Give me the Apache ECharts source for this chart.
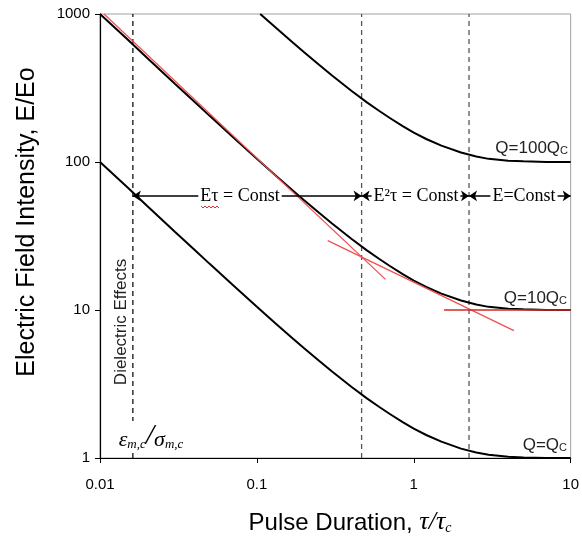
<!DOCTYPE html>
<html><head><meta charset="utf-8">
<script src="https://cdn.jsdelivr.net/npm/echarts/dist/echarts.min.js"></script>
<style>html,body{margin:0;padding:0;background:#fff}#c{width:582px;height:552px}</style>
</head><body><div id="c"></div>
<script>
// ---- data ----
const tau = [0.01,0.015,0.02,0.03,0.04,0.05,0.07,0.1,0.13,0.17,0.2,0.25,0.3,0.4,0.5,0.6,0.7,0.85,1,1.2,1.5,2,2.5,3,4,5,7,10];
const eQc = [100,67.2,50.5,33.8,25.5,20.5,14.8,10.5,8.2,6.4,5.52,4.52,3.86,3.03,2.54,2.22,1.99,1.75,1.58,1.43,1.29,1.157,1.089,1.052,1.019,1.007,1.001,1];
const eQ10 = [1000,672,505,338,255,205,148,105,82,64,55.2,45.2,38.6,30.3,25.4,22.2,19.9,17.5,15.8,14.3,12.9,11.6,10.9,10.5,10.2,10.1,10.0,10];
const tau100 = [0.105,0.13,0.17,0.2,0.25,0.3,0.4,0.5,0.6,0.7,0.85,1,1.2,1.5,2,2.5,3,4,5,7,10];
const eQ100 = [1000,820,640,552,452,386,303,254,222,199,175,158,143,129,116,109,105,102,101,100,100];
// red tangent lines (end points)
const tangentEtauX = [0.0106, 0.66];   const tangentEtauY = [1000, 16.1];
const tangentE2tauX = [0.283, 4.35];   const tangentE2tauY = [29.4, 7.25];
const tangentEX = [1.56, 10];          const tangentEY = [10, 10];
// vertical boundaries (tau) and the arrow level (E)
const boundaryTaus = [0.0162, 0.465, 2.25];
const arrowLevel = 59;
const xTickLabels = ['0.01','0.1','1','10'];
const yTickLabels = ['1','10','100','1000'];
const curveNames = ['Q=Qc','Q=10Qc','Q=100Qc'];

const pairs = (xs, ys) => xs.map((x, i) => [x, ys[i]]);
const SANS = 'Liberation Sans', SERIF = 'Liberation Serif';
const chart = echarts.init(document.getElementById('c'), null, {renderer:'canvas'});

const curve = (name, data) => ({
  name, type:'line', data, showSymbol:false, symbol:'none', smooth:false,
  lineStyle:{color:'#000', width:2}, z:3, silent:true, animation:false
});
const seg = (data, color, width, dash, z) => ({
  type:'line', data, showSymbol:false, symbol:'none',
  lineStyle:{color, width, type:dash || 'solid'}, z, silent:true, animation:false
});

const series = [
  seg([[boundaryTaus[0],1],[boundaryTaus[0],1000]], '#111', 1.3, [5,4], 1),
  seg([[boundaryTaus[1],1],[boundaryTaus[1],1000]], '#555', 1.3, [5,4], 1),
  seg([[boundaryTaus[2],1],[boundaryTaus[2],1000]], '#555', 1.3, [5,4], 1),
  curve(curveNames[0], pairs(tau, eQc)),
  curve(curveNames[1], pairs(tau, eQ10)),
  curve(curveNames[2], pairs(tau100, eQ100)),
  seg(pairs(tangentEtauX, tangentEtauY), '#f05050', 1.3, null, 4),
  seg(pairs(tangentE2tauX, tangentE2tauY), '#f05050', 1.3, null, 4),
  seg(pairs(tangentEX, tangentEY), '#d02828', 1.6, null, 4),
  {
    type:'line', data:[], silent:true, animation:false, z:5,
    markLine:{
      silent:true, animation:false, symbol:['arrow','arrow'], symbolSize:8,
      label:{show:false}, lineStyle:{color:'#000', width:1.6, type:'solid'},
      data:[
        [{coord:[boundaryTaus[0], arrowLevel]}, {coord:[boundaryTaus[1], arrowLevel]}],
        [{coord:[boundaryTaus[1], arrowLevel]}, {coord:[boundaryTaus[2], arrowLevel]}],
        [{coord:[boundaryTaus[2], arrowLevel]}, {coord:[10, arrowLevel]}]
      ]
    }
  }
];

const qLabel = (txt, x, y) => ({
  type:'text', x, y, z:10,
  style:{text:'{a|'+txt+'}{s|C}', align:'right', verticalAlign:'middle', fill:'#222',
    rich:{a:{fontFamily:SANS, fontSize:17, fill:'#222', verticalAlign:'bottom'},
          s:{fontFamily:SANS, fontSize:11, fill:'#222', verticalAlign:'bottom'}}}
});
const regionLabel = (txt, x, y) => ({
  type:'text', x, y, z:10,
  style:{text:txt, align:'center', verticalAlign:'middle', fill:'#000',
    font:'18px "'+SERIF+'"', backgroundColor:'#fff', padding:[0,2]}
});

chart.setOption({
  animation:false,
  grid:{left:100, right:9, top:14, bottom:94, show:true, borderColor:'#a0a0a0', borderWidth:1},
  xAxis:{
    type:'log', logBase:10, min:0.01, max:10,
    axisLine:{show:true, onZero:false, lineStyle:{color:'#000', width:1.2}},
    axisTick:{show:true, inside:false, length:5, lineStyle:{color:'#000'}},
    minorTick:{show:false}, splitLine:{show:false},
    axisLabel:{margin:19, fontFamily:SANS, fontSize:15, color:'#000',
      formatter:v => xTickLabels[Math.round(Math.log10(v)) + 2]}
  },
  yAxis:{
    type:'log', logBase:10, min:1, max:1000,
    axisLine:{show:true, onZero:false, lineStyle:{color:'#000', width:1.2}},
    axisTick:{show:true, inside:false, length:5, lineStyle:{color:'#000'}},
    minorTick:{show:false}, splitLine:{show:false},
    axisLabel:{margin:10, fontFamily:SANS, fontSize:15, color:'#000',
      formatter:v => yTickLabels[Math.round(Math.log10(v))]}
  },
  series,
  graphic:[
    {type:'text', x:27, y:222, rotation:Math.PI/2, z:10,
      style:{text:'Electric Field Intensity, E/Eo', align:'center', verticalAlign:'middle',
        font:'25px "'+SANS+'"', fill:'#000'}},
    {type:'text', x:350, y:522, z:10,
      style:{text:'{a|Pulse Duration, }{b|τ/τ}{c|c}', align:'center', verticalAlign:'middle',
        rich:{a:{fontFamily:SANS, fontSize:24, fill:'#000', verticalAlign:'bottom'},
              b:{fontFamily:SERIF, fontStyle:'italic', fontSize:26, fill:'#000', verticalAlign:'bottom'},
              c:{fontFamily:SERIF, fontStyle:'italic', fontSize:14, fill:'#000', verticalAlign:'bottom'}}}},
    qLabel('Q=100Q', 568, 148),
    qLabel('Q=10Q', 567, 298),
    qLabel('Q=Q', 567, 445),
    regionLabel('Eτ = Const', 240, 196),
    regionLabel('E²τ = Const', 416, 196),
    regionLabel('E=Const', 524, 196),
    {type:'polyline', z:11, shape:{points:[[201,206],[203,208],[205,206],[207,208],[209,206],[211,208],[213,206],[215,208],[217,206],[219,208]]},
      style:{stroke:'#e03030', lineWidth:1, fill:null}},
    {type:'text', x:121, y:322, rotation:Math.PI/2, z:10,
      style:{text:'Dielectric Effects', align:'center', verticalAlign:'middle',
        font:'17px "'+SANS+'"', fill:'#222', backgroundColor:'#fff'}},
    {type:'text', x:151, y:436, z:10,
      style:{text:'{a|ε}{s|m,c}{b|/}{a|σ}{s|m,c}', align:'center', verticalAlign:'middle',
        backgroundColor:'#fff', padding:[0,1],
        rich:{a:{fontFamily:SERIF, fontStyle:'italic', fontSize:22, fill:'#000', verticalAlign:'bottom'},
              b:{fontFamily:SERIF, fontStyle:'italic', fontSize:30, fill:'#000', verticalAlign:'bottom'},
              s:{fontFamily:SERIF, fontStyle:'italic', fontSize:13, fill:'#000', verticalAlign:'bottom'}}}}
  ]
});
</script></body></html>
